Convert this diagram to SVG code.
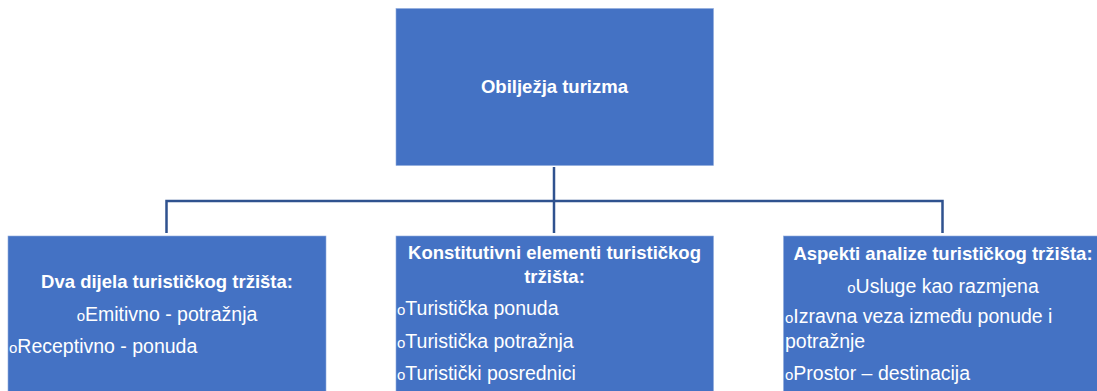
<svg xmlns="http://www.w3.org/2000/svg" width="1097" height="391" viewBox="0 0 1097 391">
<style>
.box{fill:#4472C4;stroke:#8FAADC;stroke-width:0.6}
.line{fill:none;stroke:#2F528F;stroke-width:2.5}
text{font-family:"Liberation Sans",Arial,sans-serif;fill:#FFFFFF}
.b{font-weight:bold;font-size:18.5px}
.r{font-size:19.5px}
.o{font-size:15px}
.m{text-anchor:middle}
</style>
<rect width="1097" height="391" fill="#FFFFFF"/>
<g id="connectors">
<path class="line" d="M554,167 V233"/>
<path class="line" d="M166.5,233 V201 H942.5 V233"/>
</g>
<g id="node-top">
<rect class="box" x="396" y="8.5" width="317.5" height="157"/>
<text class="b m" x="554.5" y="93">Obilježja turizma</text>
</g>
<g id="node-left">
<rect class="box" x="8" y="236" width="318" height="160"/>
<text class="b m" x="167" y="288">Dva dijela turističkog tržišta:</text>
<text class="r m" x="167" y="321"><tspan class="o">o</tspan>Emitivno - potražnja</text>
<text class="r" x="9" y="353"><tspan class="o">o</tspan>Receptivno - ponuda</text>
</g>
<g id="node-middle">
<rect class="box" x="396" y="236" width="317.5" height="160"/>
<text class="b m" x="554.5" y="259">Konstitutivni elementi turističkog</text>
<text class="b m" x="554.5" y="283">tržišta:</text>
<text class="r" x="397" y="315"><tspan class="o">o</tspan>Turistička ponuda</text>
<text class="r" x="397" y="348"><tspan class="o">o</tspan>Turistička potražnja</text>
<text class="r" x="397" y="380"><tspan class="o">o</tspan>Turistički posrednici</text>
</g>
<g id="node-right">
<rect class="box" x="783.5" y="236" width="318" height="160"/>
<text class="b m" x="943" y="260">Aspekti analize turističkog tržišta:</text>
<text class="r m" x="943" y="293"><tspan class="o">o</tspan>Usluge kao razmjena</text>
<text class="r" x="785" y="323"><tspan class="o">o</tspan>Izravna veza između ponude i</text>
<text class="r" x="785" y="348">potražnje</text>
<text class="r" x="785" y="380"><tspan class="o">o</tspan>Prostor – destinacija</text>
</g>
</svg>
